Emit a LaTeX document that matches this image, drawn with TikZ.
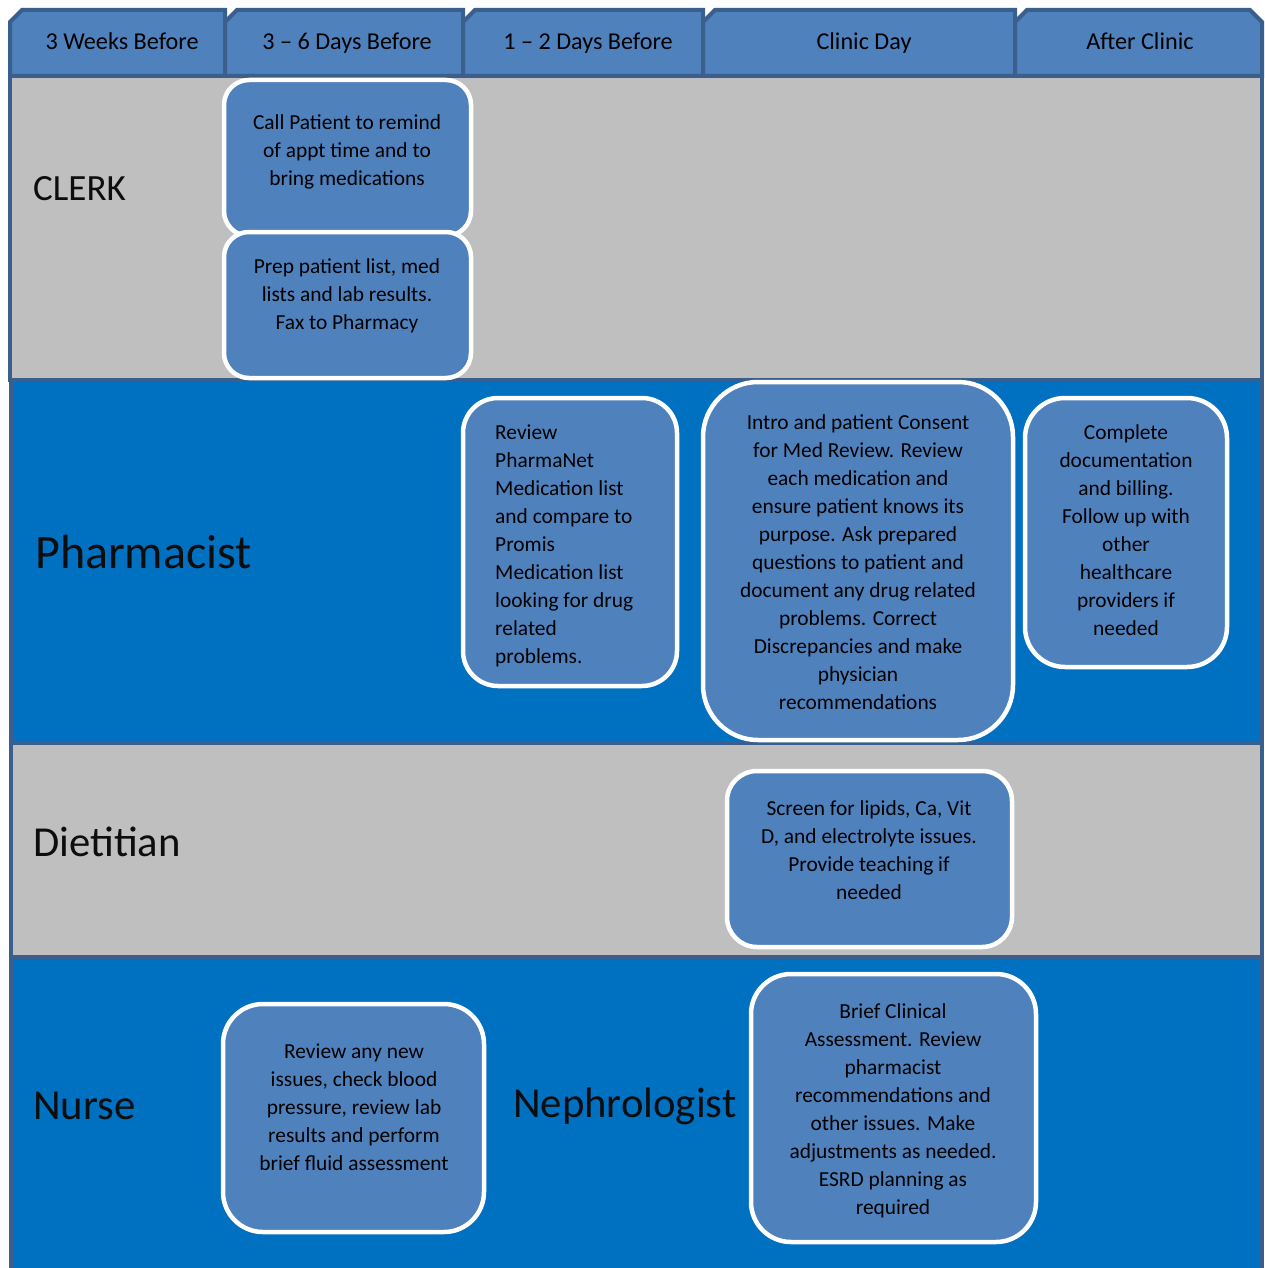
\documentclass[tikz,border=0pt]{standalone}
\usepackage{fontspec}
\setmainfont{Carlito}
\definecolor{laneGray}{HTML}{BFBFBF}
\definecolor{laneBlue}{HTML}{0070C0}
\definecolor{boxFill}{HTML}{4F81BD}
\definecolor{bord}{HTML}{3B5F8D}
\begin{document}
\begin{tikzpicture}[x=1pt,y=-1pt,
  lanebox/.style={draw=bord, line width=4pt},
  tabbox/.style={draw=bord, fill=boxFill, line width=4pt, line join=miter},
  task/.style={fill=boxFill, draw=white, line width=4.5pt, rounded corners=#1, inner sep=0pt},
  txt/.style={font=\fontsize{21.4}{28}\selectfont, align=center, text=black, inner sep=0pt},
  hdr/.style={font=\fontsize{24.2}{28}\selectfont, text=black, inner sep=0pt, anchor=base},
  lbl/.style={font=\fontsize{42.7}{48}\selectfont, text=black!95, inner sep=0pt, anchor=west}
]
\useasboundingbox (0,0) rectangle (1265,1268);
\fill[white] (0,0) rectangle (1265,1268);
% lanes
\draw[lanebox, fill=laneBlue] (11,957) rectangle (1262,1275);
\draw[lanebox, fill=laneGray] (11,743) rectangle (1262,957);
\draw[lanebox, fill=laneBlue] (11,380) rectangle (1262,743);
\draw[lanebox, fill=laneGray] (10,76) rectangle (1262,380);
% header tabs
\draw[tabbox] (10,22) -- (22,10) -- (225,10) -- (225,76) -- (10,76) -- cycle;
\draw[tabbox] (225,22) -- (237,10) -- (463,10) -- (463,76) -- (225,76) -- cycle;
\draw[tabbox] (463,22) -- (475,10) -- (703,10) -- (703,76) -- (463,76) -- cycle;
\draw[tabbox] (703,22) -- (715,10) -- (1015,10) -- (1015,76) -- (703,76) -- cycle;
\draw[tabbox] (1015,22) -- (1027,10) -- (1250,10) -- (1262,22) -- (1262,76) -- (1015,76) -- cycle;
\node[hdr] (h1) at (122,50) {3 Weeks Before};
\node[hdr] (h2) at (347,50) {3 – 6 Days Before};
\node[hdr] (h3) at (588,50) {1 – 2 Days Before};
\node[hdr] (h4) at (864,50) {Clinic Day};
\node[hdr] (h5) at (1140,50) {After Clinic};
% lane labels
\node[lbl, font=\fontsize{37}{44}\selectfont] (lclerk) at (33,189) {CLERK};
\node[lbl, font=\fontsize{48}{54}\selectfont] (lpharm) at (35,552) {Pharmacist};
\node[lbl] (ldiet) at (33,842) {Dietitian};
\node[lbl] (lnurse) at (33,1106) {Nurse};
\node[lbl] (lneph) at (513,1106) {Nephrologist};
% task boxes
\node[task=25, minimum width=247pt, minimum height=156pt] (c1) at (347.5,158) {};
\node[txt] (c1t) at (347,152) {Call Patient to remind\\of appt time and to\\bring medications};
\node[task=25, minimum width=247pt, minimum height=146pt] (c2) at (347.5,305) {};
\node[txt] (c2t) at (347,296) {Prep patient list, med\\lists and lab results.\\Fax to Pharmacy};
\node[task=35, minimum width=214pt, minimum height=288pt] (p1) at (570,542) {};
\node[txt, align=left, anchor=west] (p1t) at (495,546) {Review\\PharmaNet\\Medication list\\and compare to\\Promis\\Medication list\\looking for drug\\related\\problems.};
\node[task=55, minimum width=310pt, minimum height=358pt] (p2) at (858,561) {};
\node[txt] (p2t) at (858,562) {Intro and patient Consent\\for Med Review. Review\\each medication and\\ensure patient knows its\\purpose. Ask prepared\\questions to patient and\\document any drug related\\problems. Correct\\Discrepancies and make\\physician\\recommendations};
\node[task=40, minimum width=202pt, minimum height=269pt] (p3) at (1126,532.5) {};
\node[txt] (p3t) at (1126,530.5) {Complete\\documentation\\and billing.\\Follow up with\\other\\healthcare\\providers if\\needed};
\node[task=30, minimum width=285pt, minimum height=176pt] (d1) at (869.5,859) {};
\node[txt] (d1t) at (869,850) {Screen for lipids, Ca, Vit\\D, and electrolyte issues.\\Provide teaching if\\needed};
\node[task=40, minimum width=261pt, minimum height=228pt] (n1) at (353.5,1118) {};
\node[txt] (n1t) at (354,1107.5) {Review any new\\issues, check blood\\pressure, review lab\\results and perform\\brief fluid assessment};
\node[task=40, minimum width=285pt, minimum height=268pt] (n2) at (893.5,1108) {};
\node[txt] (n2t) at (893,1111) {Brief Clinical\\Assessment. Review\\pharmacist\\recommendations and\\other issues. Make\\adjustments as needed.\\ESRD planning as\\required};
\end{tikzpicture}
\end{document}
